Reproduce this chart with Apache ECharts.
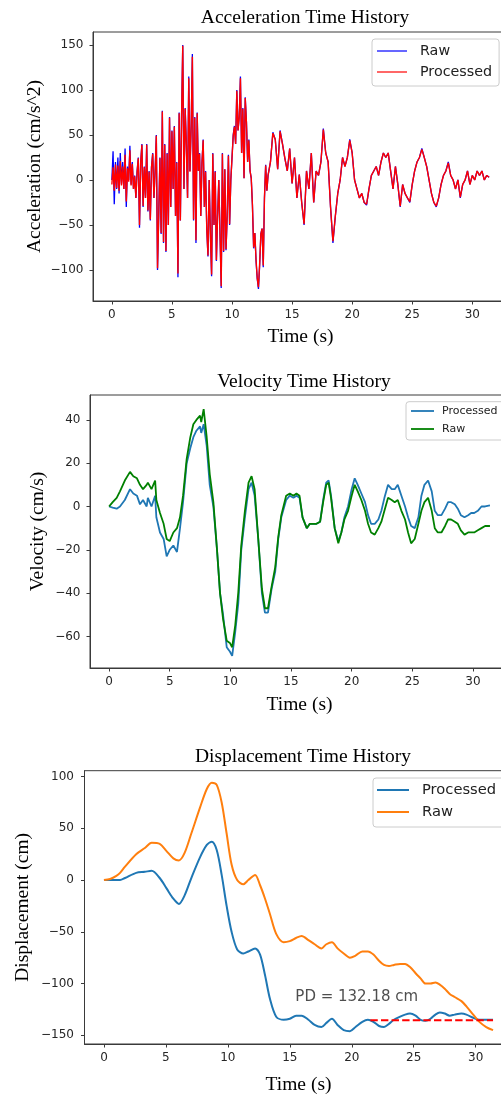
<!DOCTYPE html>
<html><head><meta charset="utf-8">
<script src="https://cdn.jsdelivr.net/npm/echarts@6/dist/echarts.min.js"></script>
<style>html,body{margin:0;padding:0;background:#fff;overflow:hidden;width:501px;height:1096px}#c{width:520px;height:1096px}</style>
</head><body><div id="c"></div>
<script>
// ---------- Acceleration ----------
const accelTime = [
 0,0.1,0.2,0.3,0.4,0.5,0.6,0.7,0.8,0.9,
 1.0,1.1,1.2,1.3,1.4,1.5,1.6,1.7,1.8,1.9,
 2.0,2.1,2.2,2.3,2.4,2.5,2.6,2.7,2.8,2.9,
 3.0,3.1,3.2,3.3,3.4,3.5,3.6,3.7,3.8,3.9,
 4.0,4.1,4.2,4.3,4.4,4.5,4.6,4.7,4.8,4.9,
 5.0,5.1,5.2,5.3,5.4,5.5,5.6,5.7,5.8,5.9,
 6.0,6.1,6.2,6.3,6.4,6.5,6.6,6.7,6.8,6.9,
 7.0,7.1,7.2,7.3,7.4,7.5,7.6,7.7,7.8,7.9,
 8.0,8.1,8.2,8.3,8.4,8.5,8.6,8.7,8.8,8.9,
 9.0,9.1,9.2,9.3,9.4,9.5,9.6,9.7,9.8,9.9,
 10.0,10.1,10.2,10.3,10.4,10.5,10.6,10.7,10.8,10.9,
 11.0,11.1,11.2,11.3,11.4,11.5,11.6,11.7,11.8,11.9,
 12.0,12.1,12.2,12.3,12.4,12.5,12.6,12.7,12.8,12.9,
 13.0,
 13.2,13.4,13.6,13.8,14.0,14.2,14.4,14.6,14.8,15.0,
 15.2,15.4,15.6,15.8,16.0,16.2,16.4,16.6,16.8,17.0,
 17.2,17.4,17.6,17.8,18.0,18.2,18.4,18.6,18.8,19.0,
 19.2,19.4,19.6,19.8,20.0,20.2,20.4,20.6,20.8,21.0,
 21.2,21.4,21.6,21.8,22.0,22.2,22.4,22.6,22.8,23.0,
 23.2,23.4,23.6,23.8,24.0,24.2,24.4,24.6,24.8,25.0,
 25.2,25.4,25.6,25.8,26.0,26.2,26.4,26.6,26.8,27.0,
 27.2,27.4,27.6,27.8,28.0,28.2,28.4,28.6,28.8,29.0,
 29.2,29.4,29.6,29.8,30.0,30.2,30.4,30.6,30.8,31.0,
 31.2,31.4
];
const accelRaw = [
 0,32,-27,20,-10,25,-15,30,-5,20,
 -10,35,-30,15,0,38,-5,20,-10,5,
 -20,10,25,-53,20,40,-30,15,-20,40,
 -35,10,-45,15,30,-20,10,50,-100,-40,
 25,-60,77,-70,40,-80,30,-50,70,-30,
 55,-10,60,-40,20,-108,75,-45,70,150,
 -10,80,40,-20,115,10,60,140,-45,70,
 -70,75,10,30,-40,20,45,-30,10,-55,
 -85,0,-60,-107,30,-50,10,-90,-40,0,
 -60,-120,30,-80,12,-78,-40,28,-50,0,
 -2,50,60,40,100,55,70,115,30,80,
 2,92,65,20,45,10,2,-28,-76,-59,
 -90,-110,-121,-95,-60,-54,-97,-20,17,-12,
 5,
 20,53,45,12,55,40,24,10,35,-4,
 25,-20,6,-25,-50,10,-10,30,-25,10,
 5,20,57,30,20,-30,-70,-40,-15,0,
 25,15,25,45,30,0,-10,-20,-15,-25,
 -28,-10,5,10,15,5,20,30,25,30,
 10,-10,15,-5,-30,-5,-15,-20,-25,-5,
 10,20,25,35,25,15,0,-15,-25,-30,
 -20,-5,5,10,20,5,0,-10,0,-20,
 -5,0,10,-5,5,0,10,5,10,0,
 5,3
];
const accelProcessed = [
 -5,14,-12,17,-9,16,-12,21,-6,15,
 -10,28,-24,13,-2,33,-6,18,-10,4,
 -20,9,24,-50,19,39,-29,14,-20,39,
 -34,9,-44,14,29,-20,9,49,-98,-40,
 24,-59,76,-69,39,-79,29,-50,69,-30,
 54,-10,59,-40,19,-104,74,-45,69,149,
 -10,79,39,-20,113,9,59,137,-44,69,
 -67,74,10,29,-40,19,44,-30,9,-55,
 -84,0,-60,-105,29,-50,9,-89,-40,0,
 -60,-118,29,-79,12,-77,-40,27,-49,0,
 -2,49,59,40,99,55,69,113,30,79,
 2,91,64,20,44,10,2,-28,-75,-59,
 -89,-109,-119,-93,-60,-54,-95,-20,16,-12,
 5,
 20,52,45,12,54,40,24,10,35,-4,
 25,-20,6,-25,-49,10,-10,30,-25,10,
 5,20,56,30,20,-30,-68,-40,-15,0,
 25,15,25,44,30,0,-10,-20,-15,-25,
 -27,-10,5,10,15,5,20,30,25,30,
 10,-10,15,-5,-29,-5,-15,-20,-24,-5,
 10,20,25,34,25,15,0,-15,-25,-29,
 -20,-5,5,10,19,5,0,-10,0,-19,
 -5,0,10,-5,5,0,10,5,10,0,
 5,3
];
const accelYTicks = [-100,-50,0,50,100,150];

// ---------- Velocity ----------
const velTime = [
 0,0.3,0.63,0.9,1.3, 1.73,2.0,2.3,2.55,2.8, 3.1,3.2,3.5,3.8,3.9, 4.2,4.5,4.75,5.0,5.3,
 5.6,5.85,6.1,6.4,6.7, 6.95,7.2,7.5,7.6,7.8, 8.05,8.3,8.6,8.9,9.15, 9.4,9.7,9.96,10.15,10.4,
 10.65,10.9,11.2,11.5,11.75, 12.0,12.3,12.6,12.85,13.1, 13.4,13.7,13.95,14.2,14.6, 14.9,15.2,15.45,15.7,15.95,
 16.3,16.55,16.8,17.1,17.4, 17.65,17.9,18.1,18.3,18.6, 18.9,19.15,19.4,19.7,20.0, 20.25,20.5,20.8,21.1,21.35,
 21.6,21.9,22.2,22.45,22.7, 23.0,23.3,23.55,23.8,24.1, 24.4,24.65,24.9,25.2,25.5, 25.75,26.0,26.3,26.6,26.85,
 27.1,27.4,27.7,27.95,28.2, 28.5,28.75,29.0,29.3,29.6, 29.85,30.1,30.4,30.7,31.0, 31.4
];
const velProcessed = [
 0,-0.5,-1,0,3, 8,6,5,1,3, 0,4,0,5,-5, -12,-15,-23,-20,-18,
 -21,-10,2,20,27, 32,35,37,34,38, 28,10,0,-20,-40, -50,-65,-67,-69,-58,
 -45,-20,-5,8,11, 5,-15,-40,-49,-49, -38,-30,-15,-5,3, 5,4,5,4,-5,
 -10,-8,-8,-8,-7, 3,11,12,5,-10, -16,-12,-5,0,8, 13,10,6,2,-4,
 -8,-8,-6,-2,4, 10,8,8,10,5, 0,-5,-9,-10,-5, 5,10,12,7,-2,
 -4,-4,-1,2,2, 1,-1,-4,-5,-4, -3,-3,-2,0,0, 0.5
];
const velRaw = [
 0,2,4,7,12, 16,14,13,10,8, 10,11,8,12,3, -3,-8,-15,-16,-12,
 -10,-5,5,22,32, 38,40,42,39,45, 32,15,2,-20,-40, -52,-62,-63,-65,-55,
 -40,-18,-2,11,14, 8,-15,-38,-47,-47, -37,-28,-14,-4,5, 6,5,6,5,-5,
 -10,-8,-8,-8,-7, 2,10,11,4,-10, -17,-12,-6,-2,5, 10,7,3,-2,-8,
 -12,-13,-10,-7,-2, 4,3,2,3,-2, -6,-12,-17,-15,-8, -2,2,4,-2,-10,
 -12,-12,-9,-6,-6, -7,-8,-11,-13,-12, -12,-12,-11,-10,-9, -9
];
const velYTicks = [-60,-40,-20,0,20,40];

// ---------- Displacement ----------
const dispTime = [
 0,0.5,1.0,1.3,1.7, 2.6,3.3,3.85,4.5,5.05, 5.6,6.05,6.5,7.05,7.75, 8.3,8.7,9.1,9.5,9.9,
 10.3,10.75,11.25,11.65,12.2, 12.6,13.0,13.4,13.9,14.5, 15.0,15.5,15.95,16.5,17.0, 17.55,17.95,18.4,18.85,19.35,
 19.85,20.3,20.85,21.3,21.75, 22.2,22.6,23.0,23.4,23.9, 24.3,24.7,25.15,25.55,25.95, 26.35,26.75,27.1,27.5,27.9,
 28.3,28.85,29.25,29.8,30.3, 30.85,31.4
];
const dispProcessed = [
 0,0,0,0,2, 7,8,9,2,-8, -18,-23,-15,2,22, 34,37,29,5,-25,
 -50,-67,-71,-69,-66, -72,-92,-115,-132,-135, -134,-131,-131,-135,-140, -142,-138,-134,-140,-145,
 -146,-142,-137,-135,-137, -141,-142,-139,-135,-132, -130,-129,-131,-135,-136, -134,-130,-128,-129,-131,
 -130,-129,-130,-133,-135, -135,-135
];
const dispRaw = [
 0,1,4,7,13, 25,31,36,35,28, 21,19,26,45,70, 88,94,92,75,45,
 15,0,-4,0,5, -5,-18,-33,-52,-60, -59,-56,-54,-58,-62, -66,-62,-60,-66,-71,
 -75,-73,-69,-69,-72, -78,-82,-83,-82,-81, -81,-84,-90,-95,-100, -100,-99,-101,-105,-110,
 -113,-117,-122,-130,-137, -142,-145
];
const dispYTicks = [-150,-100,-50,0,50,100];
const pdLineTime = [21.5, 31.4];
const pdLineValue = [-135.5, -135.5];
const pdLabel = {t: 20.4, v: -113.5, text: 'PD = 132.18 cm'};

const xTicks = [0,5,10,15,20,25,30];
const titles = ['Acceleration Time History','Velocity Time History','Displacement Time History'];
const yNames = ['Acceleration (cm/s^2)','Velocity (cm/s)','Displacement (cm)'];

function zip(a,b){ return a.map((t,i)=>[t,b[i]]); }
function fmt(v){ return v<0 ? '\u2212'+Math.abs(v) : String(v); }

const SERIF = 'Liberation Serif';
const SANS = 'DejaVu Sans';
const FRAME = '#3a3a3a';

const grids = [
  {left:93, top:32, width:415, height:269},
  {left:90, top:395, width:419, height:273},
  {left:84.5, top:770.7, width:428, height:277.3}
];
const yRanges = [[-134.5,164.4],[-74.6,51.5],[-158.4,105.7]];
const yTickSets = [accelYTicks, velYTicks, dispYTicks];
const yNameGaps = [48, 42, 51.5];
const xNameGaps = [26, 27, 31];
const tickFont = [12, 12, 12];
const yLabelMargin = [9.5, 9.5, 10.5];
const xLabelMargin = [7.5, 7.5, 8];

const option = {
  animation:false,
  backgroundColor:'#fff',
  title: titles.map((t,i)=>({
    text:t, left:[300,299,298][i], top:[3,367,742][i], textAlign:'center',
    textStyle:{fontFamily:SERIF, fontSize:19.5, fontWeight:'normal', color:'#000'}
  })),
  grid: grids.map(g=>Object.assign({show:true, borderColor:FRAME, borderWidth:1, backgroundColor:'transparent'}, g)),
  xAxis: grids.map((g,i)=>({
    type:'value', gridIndex:i, min:-1.57, max:32.97,
    axisLine:{show:true, onZero:false, lineStyle:{color:FRAME, width:1}},
    splitLine:{show:false},
    axisTick:{show:true, customValues:xTicks, length:3.5, lineStyle:{color:FRAME}},
    axisLabel:{customValues:xTicks, formatter:fmt, fontFamily:SANS, fontSize:tickFont[i], color:'#262626', margin:xLabelMargin[i]},
    name:'Time (s)', nameLocation:'middle', nameGap:xNameGaps[i],
    nameTextStyle:{fontFamily:SERIF, fontSize:19.5, color:'#000'}
  })),
  yAxis: grids.map((g,i)=>({
    type:'value', gridIndex:i, min:yRanges[i][0], max:yRanges[i][1],
    axisLine:{show:true, onZero:false, lineStyle:{color:FRAME, width:1}},
    splitLine:{show:false},
    axisTick:{show:true, customValues:yTickSets[i], length:3.5, lineStyle:{color:FRAME}},
    axisLabel:{customValues:yTickSets[i], formatter:fmt, fontFamily:SANS, fontSize:tickFont[i], color:'#262626', margin:yLabelMargin[i]},
    name:yNames[i], nameLocation:'middle', nameGap:yNameGaps[i], nameRotate:90, nameMoveOverlap:false,
    nameTextStyle:{fontFamily:SERIF, fontSize:19.5, color:'#000'}
  })),
  legend: [
    {left:372, top:39, orient:'vertical', padding:[1.5,7,3.5,5], itemGap:0, itemWidth:30, itemHeight:1.2, icon:'rect',
     borderColor:'#ccc', borderWidth:1, borderRadius:3, backgroundColor:'rgba(255,255,255,0.8)',
     data:['Raw','Processed'], textStyle:{fontFamily:SANS, fontSize:14.3, color:'#222', lineHeight:21, padding:[0,0,0,8]}},
    {left:406, top:401.7, orient:'vertical', padding:[0.3,20,2,5], itemGap:0, itemWidth:23, itemHeight:1.8, icon:'rect',
     borderColor:'#ccc', borderWidth:1, borderRadius:3, backgroundColor:'rgba(255,255,255,0.8)',
     data:['Processed ','Raw '], textStyle:{fontFamily:SANS, fontSize:11, color:'#222', lineHeight:18, padding:[0,0,0,3]}},
    {left:373, top:778, orient:'vertical', padding:[1,20,4,4], itemGap:0, itemWidth:32, itemHeight:2, icon:'rect',
     borderColor:'#ccc', borderWidth:1, borderRadius:3, backgroundColor:'rgba(255,255,255,0.8)',
     data:['Processed  ','Raw  '], textStyle:{fontFamily:SANS, fontSize:14.7, color:'#222', lineHeight:22, padding:[0,0,0,8]}}
  ],
  series: [
    {name:'Raw', type:'line', xAxisIndex:0, yAxisIndex:0, data:zip(accelTime,accelRaw), showSymbol:false,
     lineStyle:{color:'#0000ff', width:1.3}, itemStyle:{color:'#0000ff'}},
    {name:'Processed', type:'line', xAxisIndex:0, yAxisIndex:0, data:zip(accelTime,accelProcessed), showSymbol:false,
     lineStyle:{color:'#ff0000', width:1.4}, itemStyle:{color:'#ff0000'}},
    {name:'Processed ', type:'line', xAxisIndex:1, yAxisIndex:1, data:zip(velTime,velProcessed), showSymbol:false,
     lineStyle:{color:'#1f77b4', width:1.8}, itemStyle:{color:'#1f77b4'}},
    {name:'Raw ', type:'line', xAxisIndex:1, yAxisIndex:1, data:zip(velTime,velRaw), showSymbol:false,
     lineStyle:{color:'#008000', width:1.8}, itemStyle:{color:'#008000'}},
    {name:'Processed  ', type:'line', xAxisIndex:2, yAxisIndex:2, data:zip(dispTime,dispProcessed), showSymbol:false, smooth:0.3,
     lineStyle:{color:'#1f77b4', width:2}, itemStyle:{color:'#1f77b4'}},
    {name:'Raw  ', type:'line', xAxisIndex:2, yAxisIndex:2, data:zip(dispTime,dispRaw), showSymbol:false, smooth:0.3,
     lineStyle:{color:'#ff7f0e', width:2}, itemStyle:{color:'#ff7f0e'}},
    {name:'PD', type:'line', xAxisIndex:2, yAxisIndex:2, data:zip(pdLineTime,pdLineValue), showSymbol:false,
     lineStyle:{color:'#ff0000', width:2, type:[7.4,3.2]}, itemStyle:{color:'#ff0000'}},
    {name:'PD label', type:'scatter', xAxisIndex:2, yAxisIndex:2, data:[[pdLabel.t,pdLabel.v]], symbolSize:0,
     label:{show:true, position:'inside', formatter:pdLabel.text, fontFamily:SANS, fontSize:15, color:'#222'}}
  ]
};
const chart = echarts.init(document.getElementById('c'), null, {renderer:'canvas'});
chart.setOption(option);
</script>
</body></html>
